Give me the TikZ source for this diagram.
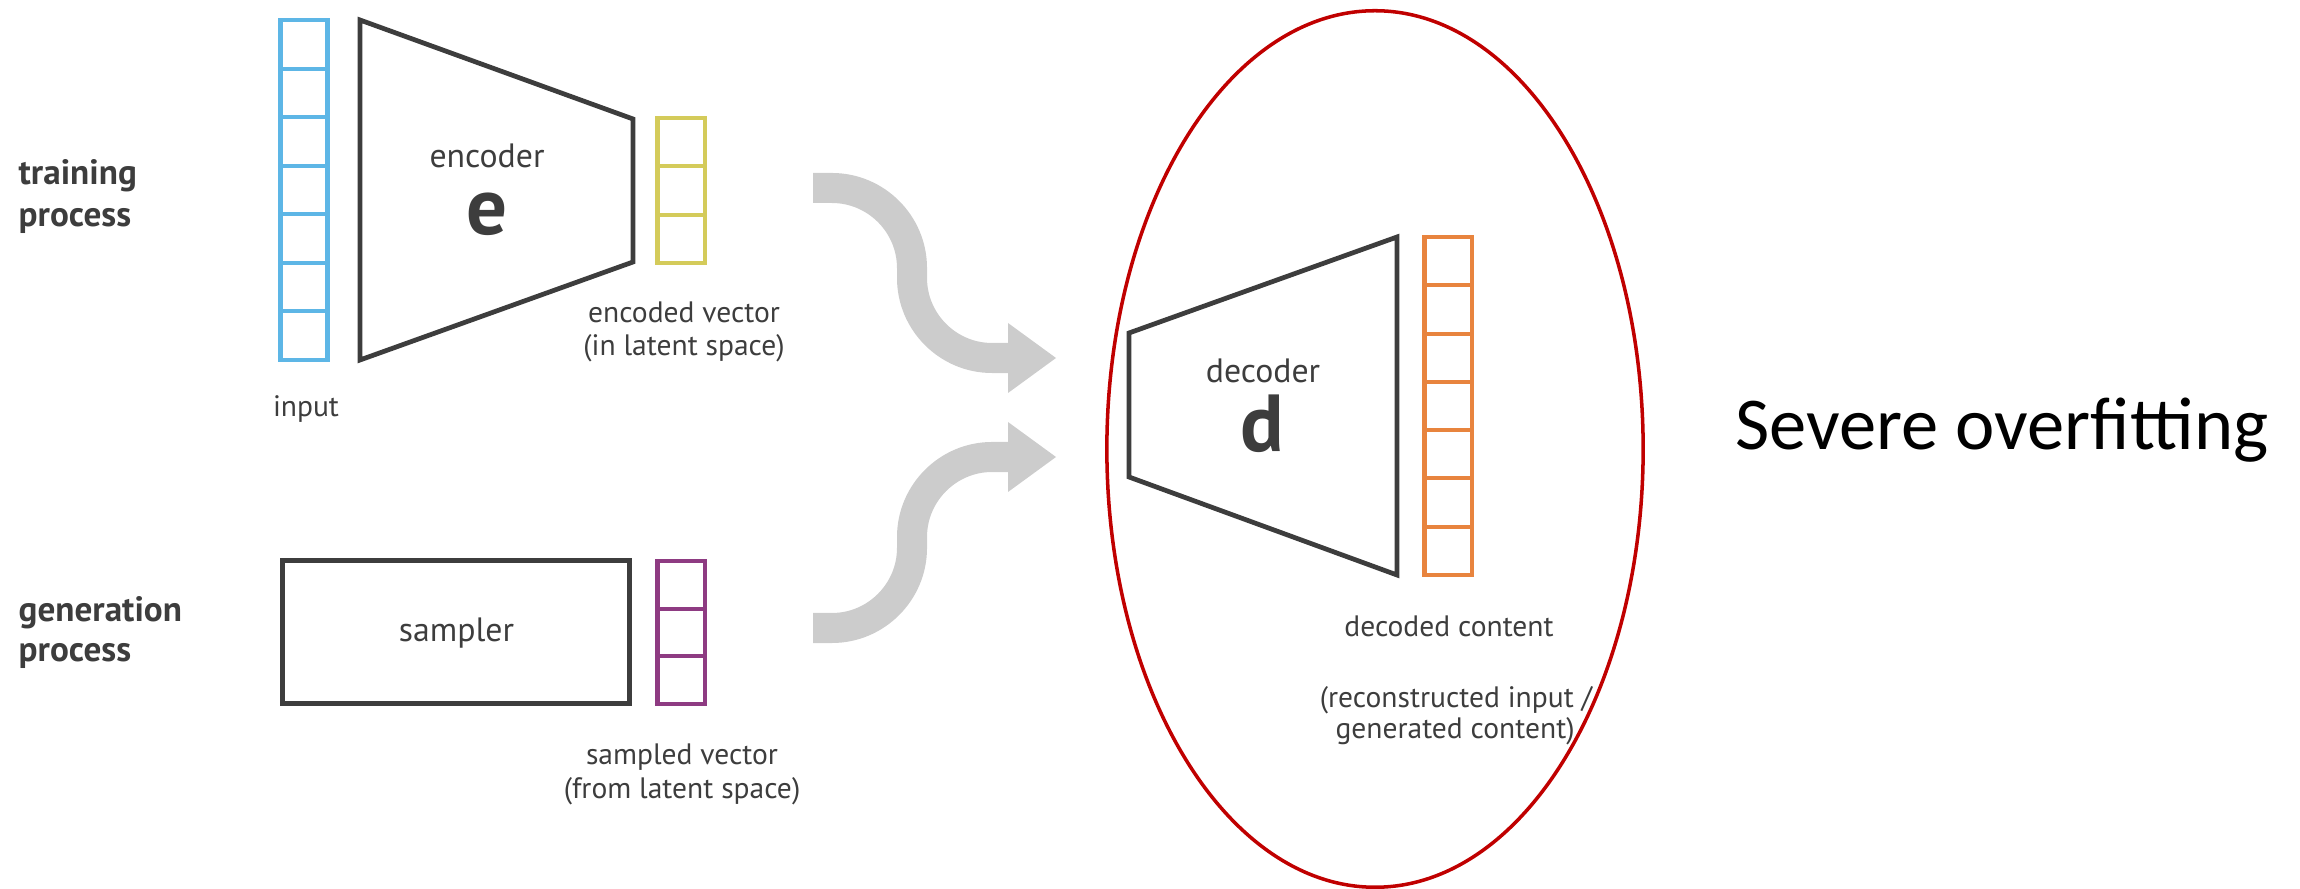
\documentclass[tikz,border=0pt]{standalone}
\usepackage{fontspec}
\setmainfont{PT Sans}
\newfontfamily\calibrifont{Carlito}
\definecolor{ink}{HTML}{3D3D3D}
\definecolor{inblue}{HTML}{5DB6E6}
\definecolor{latyellow}{HTML}{D4CB5A}
\definecolor{latpurple}{HTML}{8E3B82}
\definecolor{outorange}{HTML}{E8843E}
\definecolor{flowgray}{HTML}{CCCCCC}
\definecolor{ringred}{HTML}{C00000}
\begin{document}
\begin{tikzpicture}[x=0.01cm,y=-0.01cm,
  cell/.style={draw, line width=1.15pt, minimum width=0.47cm, inner sep=0pt, outer sep=0pt},
  block/.style={draw=ink, line width=1.35pt, line join=miter},
  lbl/.style={text=ink, font=\fontsize{8.4}{10}\selectfont, inner sep=0pt, anchor=base},
  inlbl/.style={text=ink, font=\fontsize{9.6}{11}\selectfont, inner sep=0pt, anchor=base},
  side/.style={text=ink, font=\bfseries\fontsize{10}{12}\selectfont, inner sep=0pt, anchor=base west},
  big/.style={text=ink, font=\bfseries\fontsize{23}{23}\selectfont, inner sep=0pt, anchor=base},
  flow/.style={draw=flowgray, line width=0.3cm},
  flowtip/.style={fill=flowgray}]
\useasboundingbox (0,0) rectangle (2300,889);

% row labels
\node[side] (train1) at (18,185) {training};
\node[side] (train2) at (18,227) {process};
\node[side] (gen1) at (18,622) {generation};
\node[side] (gen2) at (18,662) {process};

% input vector
\foreach \i in {0,...,6}
  \node[cell, draw=inblue, minimum height=0.4857cm] (in-\i) at (304,{20+48.57*(\i+0.5)}) {};
\node[lbl] (inp) at (306,417) {input};

% encoder
\draw[block] (360,20) -- (633,119) -- (633,262) -- (360,360) -- cycle;
\node[inlbl] (enc) at (487,168) {encoder};
\node[big] (e) at (487,235) {e};

% encoded vector
\foreach \i in {0,...,2}
  \node[cell, draw=latyellow, minimum height=0.4833cm] (z-\i) at (681,{118+48.33*(\i+0.5)}) {};
\node[lbl] (encv1) at (684,323) {encoded vector};
\node[lbl] (encv2) at (684,356) {(in latent space)};

% sampler
\node[draw=ink, line width=1.35pt, minimum width=3.474cm, minimum height=1.434cm, inner sep=0pt] (sampler) at (456,632) {};
\node[inlbl] (samp) at (456.5,642) {sampler};

% sampled vector
\foreach \i in {0,...,2}
  \node[cell, draw=latpurple, minimum height=0.4767cm] (s-\i) at (681,{561+47.67*(\i+0.5)}) {};
\node[lbl] (smpv1) at (682,765) {sampled vector};
\node[lbl] (smpv2) at (682,799) {(from latent space)};

% flow arrows into the decoder
\coordinate (t1) at (813,188);
\coordinate (h1) at (1010,358);
\coordinate (t2) at (813,628);
\coordinate (h2) at (1010,457);
\draw[flow] (t1) -- (832,188) .. controls (876,188) and (912,224) .. (912,268)
  -- (912,278) .. controls (912,322) and (948,358) .. (992,358) -- (h1);
\fill[flowtip] (1008,323) -- (1056,358) -- (1008,393) -- cycle;
\draw[flow] (t2) -- (832,628) .. controls (876,628) and (912,592) .. (912,548)
  -- (912,537) .. controls (912,493) and (948,457) .. (992,457) -- (h2);
\fill[flowtip] (1008,422) -- (1056,457) -- (1008,492) -- cycle;

% decoder
\draw[block] (1129,333) -- (1397,237) -- (1397,575) -- (1129,477) -- cycle;
\node[inlbl] (dec) at (1263,383) {decoder};
\node[big] (d) at (1262,452) {d};

% decoded vector
\foreach \i in {0,...,6}
  \node[cell, draw=outorange, minimum height=0.4829cm] (out-\i) at (1448,{237+48.29*(\i+0.5)}) {};
\node[lbl] (decv) at (1449,637) {decoded content};
\node[lbl] (recon1) at (1456,708) {(reconstructed input /};
\node[lbl] (recon2) at (1455,739) {generated content)};

% highlight ring
\draw[ringred, line width=1pt] (1375,449) ellipse [x radius=2.68cm, y radius=4.38cm];

\node[anchor=base west, inner sep=0pt, font=\calibrifont\fontsize{21.2}{25}\selectfont] (sev) at (1735,450) {Severe overfitting};
\end{tikzpicture}
\end{document}
